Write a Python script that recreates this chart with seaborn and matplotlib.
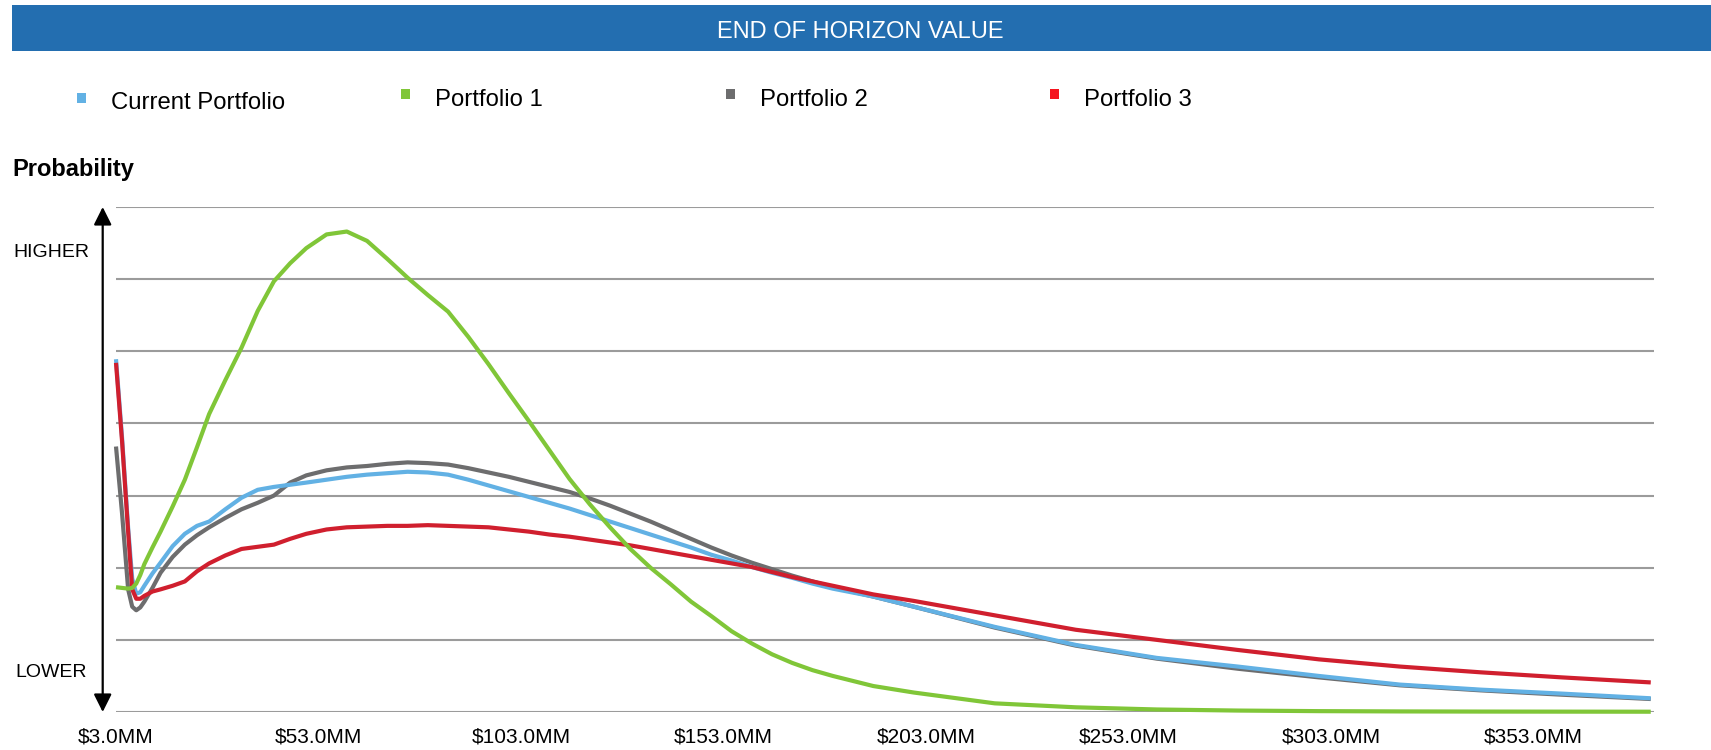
import matplotlib
matplotlib.use("Agg")
import matplotlib.pyplot as plt
import numpy as np
import pandas as pd
import seaborn as sns
from matplotlib.patches import Rectangle, FancyArrowPatch

# ---------------- data ----------------
value_mm = [3, 4.5, 6, 7, 8, 9, 10, 12, 14, 17, 20, 23, 26, 30, 34, 38, 42, 46, 50,
            55, 60, 65, 70, 75, 80, 85, 90, 95, 100, 105, 110, 115, 120, 125, 130,
            135, 140, 145, 150, 155, 160, 165, 170, 175, 180, 190, 200, 220, 240,
            260, 280, 300, 320, 340, 360, 382]

current_portfolio = [4.89, 3.80, 2.55, 1.85, 1.64, 1.66, 1.75, 1.92, 2.07, 2.30, 2.47,
                     2.58, 2.64, 2.81, 2.97, 3.08, 3.12, 3.15, 3.18, 3.22, 3.26, 3.29,
                     3.31, 3.33, 3.32, 3.29, 3.22, 3.14, 3.06, 2.98, 2.90, 2.82, 2.73,
                     2.64, 2.55, 2.46, 2.37, 2.28, 2.18, 2.10, 2.01, 1.93, 1.86, 1.78,
                     1.71, 1.60, 1.46, 1.18, 0.93, 0.75, 0.63, 0.50, 0.38, 0.31, 0.255,
                     0.19]

portfolio_1 = [1.73, 1.72, 1.71, 1.72, 1.78, 1.90, 2.05, 2.28, 2.50, 2.85, 3.22, 3.67,
               4.13, 4.60, 5.05, 5.56, 5.97, 6.22, 6.43, 6.62, 6.66, 6.53, 6.28, 6.02,
               5.78, 5.55, 5.20, 4.82, 4.42, 4.03, 3.63, 3.23, 2.88, 2.56, 2.26, 2.00,
               1.77, 1.53, 1.33, 1.12, 0.95, 0.80, 0.68, 0.58, 0.50, 0.36, 0.27, 0.12,
               0.065, 0.035, 0.02, 0.012, 0.008, 0.006, 0.005, 0.004]

portfolio_2 = [3.68, 2.75, 1.70, 1.46, 1.41, 1.45, 1.53, 1.72, 1.93, 2.15, 2.32, 2.45,
               2.56, 2.69, 2.81, 2.90, 3.00, 3.18, 3.28, 3.35, 3.39, 3.41, 3.44, 3.46,
               3.45, 3.43, 3.38, 3.32, 3.26, 3.19, 3.12, 3.05, 2.96, 2.86, 2.75, 2.64,
               2.52, 2.40, 2.28, 2.17, 2.07, 1.98, 1.89, 1.81, 1.73, 1.60, 1.46, 1.17,
               0.92, 0.74, 0.60, 0.48, 0.37, 0.30, 0.24, 0.18]

portfolio_3 = [4.84, 3.75, 2.50, 1.70, 1.57, 1.57, 1.61, 1.67, 1.70, 1.75, 1.81, 1.95,
               2.06, 2.17, 2.26, 2.29, 2.32, 2.40, 2.47, 2.53, 2.56, 2.57, 2.58, 2.58,
               2.59, 2.58, 2.57, 2.56, 2.53, 2.50, 2.46, 2.43, 2.39, 2.35, 2.31, 2.26,
               2.21, 2.16, 2.11, 2.06, 2.01, 1.94, 1.87, 1.81, 1.75, 1.63, 1.54, 1.34,
               1.14, 1.00, 0.86, 0.73, 0.63, 0.55, 0.48, 0.41]

series_names = ["Current Portfolio", "Portfolio 1", "Portfolio 2", "Portfolio 3"]
tick_values = [3, 53, 103, 153, 203, 253, 303, 353]
tick_labels = ["$3.0MM", "$53.0MM", "$103.0MM", "$153.0MM",
               "$203.0MM", "$253.0MM", "$303.0MM", "$353.0MM"]
title_text = "END OF HORIZON VALUE"
y_title = "Probability"
y_high = "HIGHER"
y_low = "LOWER"

line_colors = {"Current Portfolio": "#62B1E4", "Portfolio 1": "#80C638",
               "Portfolio 2": "#6D6D6E", "Portfolio 3": "#D01F2E"}
legend_colors = {"Current Portfolio": "#62B1E4", "Portfolio 1": "#80C638",
                 "Portfolio 2": "#6D6D6E", "Portfolio 3": "#F5141E"}

# ---------------- style ----------------
sns.set_theme(style="white")
plt.rcParams["font.family"] = ["Liberation Sans", "DejaVu Sans"]
plt.rcParams["text.parse_math"] = False

W, H = 1711, 750
fig = plt.figure(figsize=(W / 100, H / 100), dpi=100)
fig.patch.set_facecolor("white")


def fx(px):
    return px / W


def fy(py):
    return 1 - py / H


# axes: left 116px, right 1654px, top 207px, bottom 712px
ax = fig.add_axes([fx(116), fy(712), fx(1654 - 116), (712 - 207) / H])
ax.set_facecolor("white")

df = pd.DataFrame({
    "value": value_mm * 4,
    "prob": current_portfolio + portfolio_1 + portfolio_2 + portfolio_3,
    "series": [n for n in series_names for _ in value_mm],
})

draw_order = ["Portfolio 2", "Current Portfolio", "Portfolio 3", "Portfolio 1"]
for i, name in enumerate(draw_order):
    sub = df[df["series"] == name]
    sns.lineplot(data=sub, x="value", y="prob", ax=ax, color=line_colors[name],
                 linewidth=3.0, legend=False, zorder=3 + i, sort=False,
                 clip_on=False, estimator=None, solid_joinstyle="round",
                 solid_capstyle="butt")

ax.set_xlim(3, 382.8)
ax.set_ylim(0, 7)
ax.set_yticks(range(8))
ax.set_yticklabels([])
ax.grid(axis="y", color="#9B9B9B", linewidth=1.5, zorder=1)
ax.grid(axis="x", visible=False)
ax.set_axisbelow(True)
for s in ax.spines.values():
    s.set_visible(False)
ax.set_xticks(tick_values)
ax.set_xticklabels(tick_labels, fontsize=15, color="black")
ax.tick_params(axis="x", length=0, pad=11)
ax.tick_params(axis="y", length=0)
ax.set_xlabel("")
ax.set_ylabel("")

# ---------------- header bar ----------------
fig.patches.append(Rectangle((fx(12), fy(51)), fx(W - 12), (51 - 5) / H,
                             transform=fig.transFigure, facecolor="#236EB0",
                             edgecolor="none", zorder=0))
fig.text(fx(860), fy(38.3), title_text, color="white", fontsize=17,
         ha="center", va="baseline")

# ---------------- legend ----------------
legend_pos = [(81.7, 97.5, 110.7, 109.3), (405.7, 93.7, 435, 105.7),
              (730.2, 93.7, 759.5, 105.7), (1054.7, 93.7, 1084, 105.7)]
for name, (mx, my, tx, ty) in zip(series_names, legend_pos):
    fig.patches.append(Rectangle((fx(mx - 4.5), fy(my + 5)), fx(9), 10 / H,
                                 transform=fig.transFigure,
                                 facecolor=legend_colors[name], edgecolor="none"))
    fig.text(fx(tx), fy(ty), name, fontsize=17.2, color="black",
             ha="left", va="baseline")

# ---------------- y annotation ----------------
fig.text(fx(12.7), fy(176), y_title, fontsize=17, fontweight="bold",
         color="black", ha="left", va="baseline")
fig.text(fx(13.3), fy(257.3), y_high, fontsize=14, color="black",
         ha="left", va="baseline")
fig.text(fx(15), fy(676.7), y_low, fontsize=14, color="black",
         ha="left", va="baseline")
arrow = FancyArrowPatch((fx(102.7), fy(207)), (fx(102.7), fy(712)),
                        transform=fig.transFigure,
                        arrowstyle="<|-|>,head_length=1.0,head_width=0.5",
                        mutation_scale=10.8, color="black", linewidth=1.6,
                        shrinkA=0, shrinkB=0)
fig.patches.append(arrow)

fig.savefig("out.png", dpi=100, facecolor="white")
